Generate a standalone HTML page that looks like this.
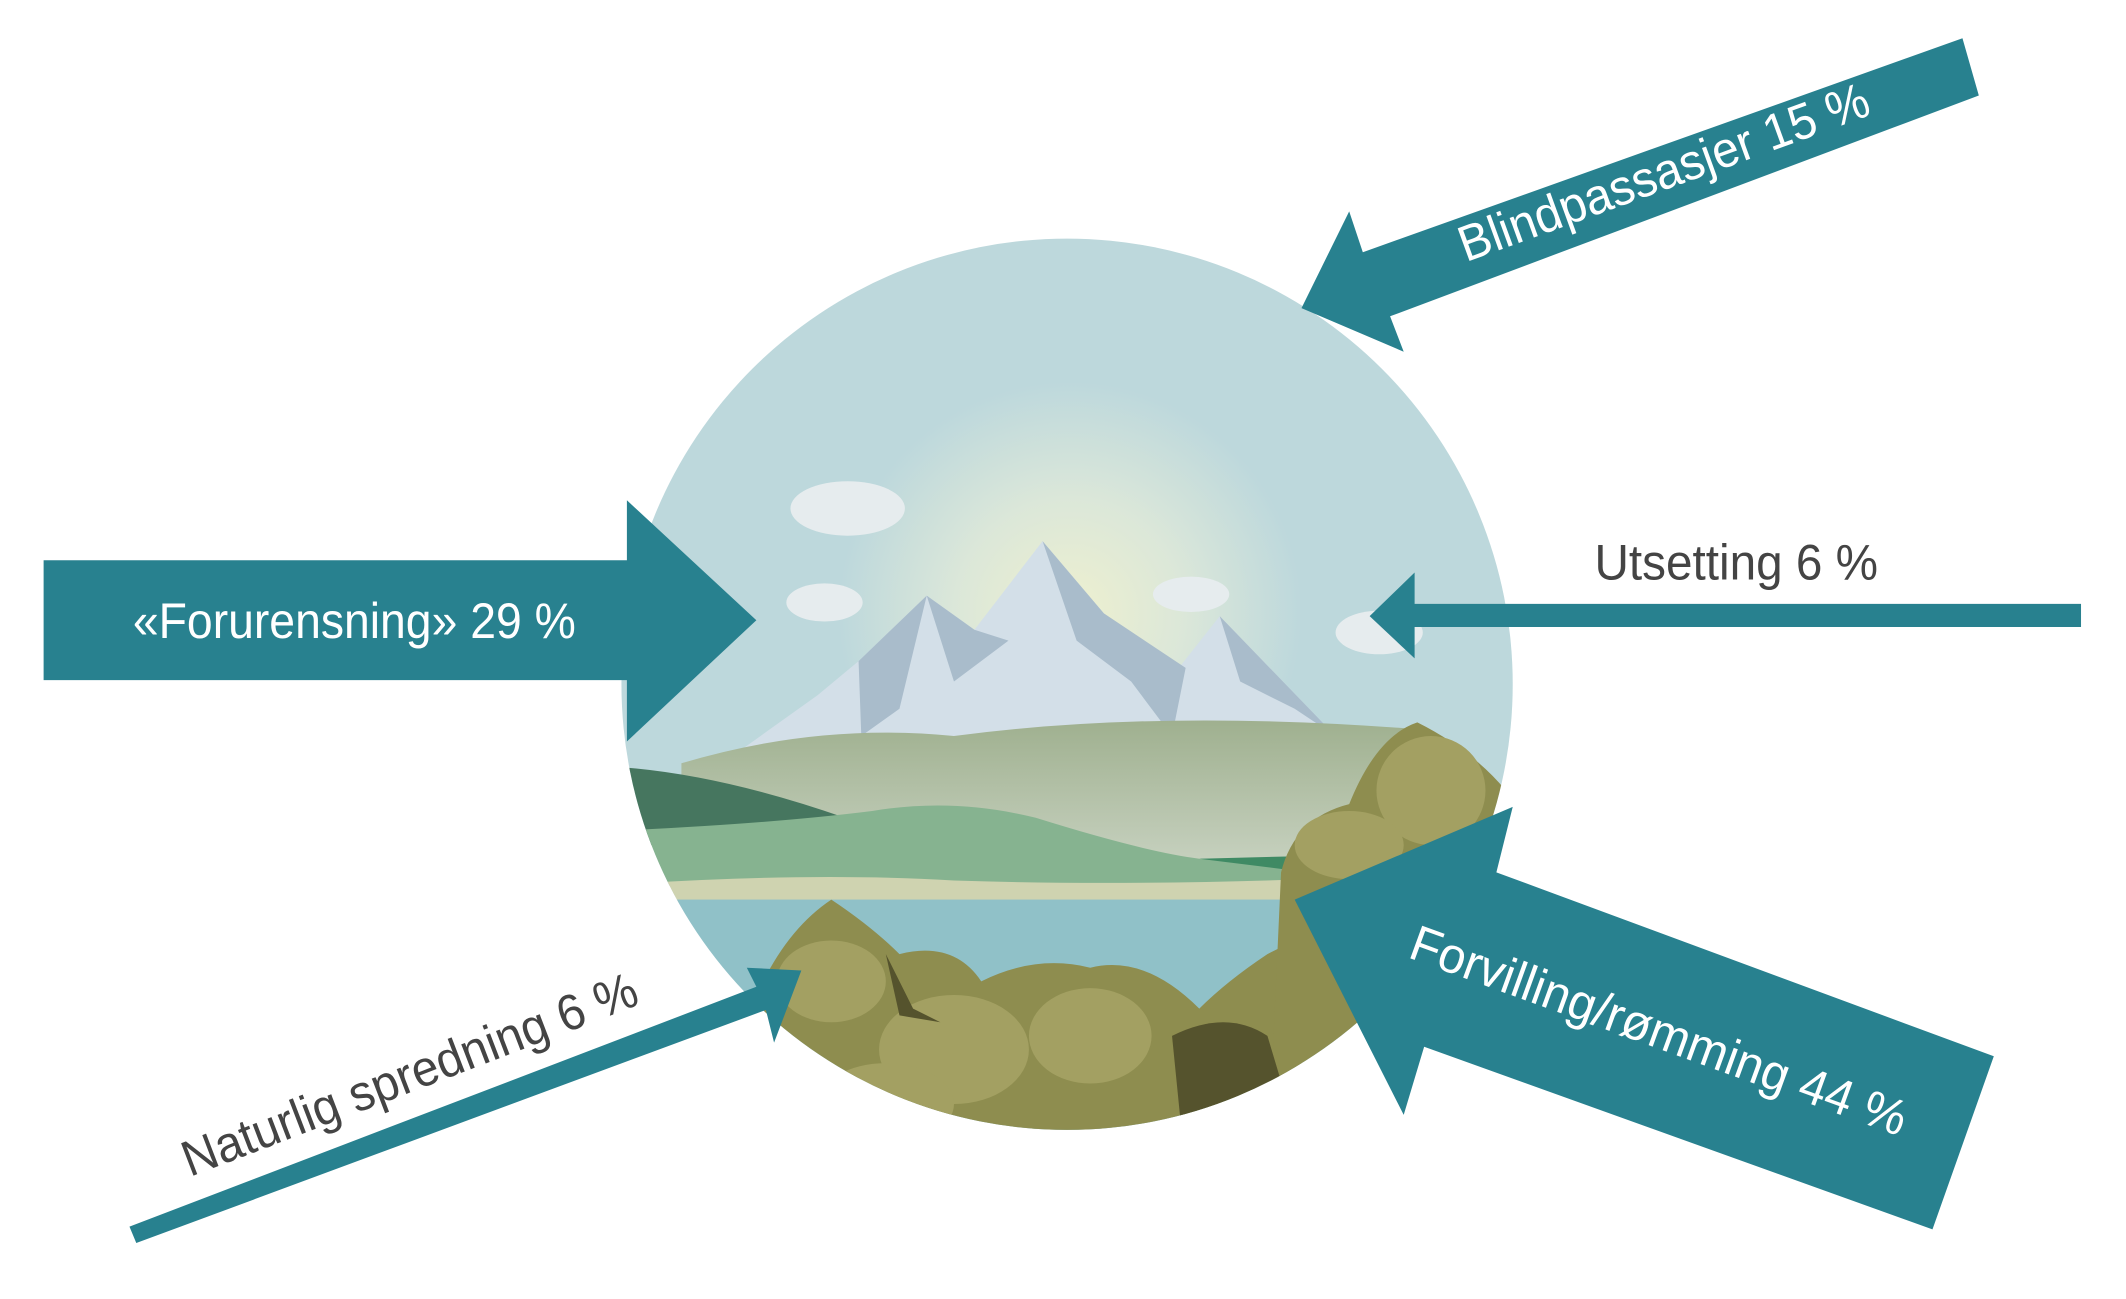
<!DOCTYPE html>
<html><head><meta charset="utf-8"><style>
html,body{margin:0;padding:0;background:#fff}
svg{display:block}
text{font-family:"Liberation Sans",sans-serif}
</style></head><body>
<svg width="2126" height="1299" viewBox="0 0 1560 953" xmlns="http://www.w3.org/2000/svg">
<defs>
<clipPath id="c"><circle cx="783" cy="502" r="327"/></clipPath>
<radialGradient id="sun" cx="785" cy="450" r="170" gradientUnits="userSpaceOnUse">
<stop offset="0" stop-color="#eef0cf"/><stop offset="0.5" stop-color="#dbe7d9"/><stop offset="1" stop-color="#bdd8dc"/></radialGradient>
<linearGradient id="hills" x1="0" y1="0" x2="0" y2="1"><stop offset="0" stop-color="#9fb08f"/><stop offset="1" stop-color="#c9d3c2"/></linearGradient>
</defs>
<g clip-path="url(#c)">
<rect x="440" y="160" width="700" height="700" fill="#bdd8dc"/>
<circle cx="785" cy="450" r="170" fill="url(#sun)"/>
<g fill="#e6ecee"><ellipse cx="622" cy="373" rx="42" ry="20"/><ellipse cx="605" cy="442" rx="28" ry="14"/><ellipse cx="874" cy="436" rx="28" ry="13"/><ellipse cx="1012" cy="464" rx="32" ry="16"/></g>
<polygon points="530,560 600,510 630,485 680,437 715,462 765,397 810,450 865,490 895,452 980,540 980,560" fill="#d3dfe8"/>
<polygon points="630,485 632,540 660,520 680,437" fill="#a9bccb"/>
<polygon points="765,397 790,470 830,500 860,540 870,490 810,450" fill="#a9bccb"/>
<polygon points="680,437 700,500 740,470 715,462" fill="#a9bccb"/>
<polygon points="895,452 910,500 950,520 980,540" fill="#a9bccb"/>
<path d="M500,560 Q600,530 700,540 Q850,520 1040,535 L1040,640 L500,640 Z" fill="url(#hills)"/>
<path d="M440,562 Q520,565 620,600 L620,620 L440,620 Z" fill="#46765f"/>
<path d="M440,610 Q560,605 640,595 Q700,585 760,600 Q840,625 880,630 L960,630 L960,650 L440,650 Z" fill="#86b390"/>
<path d="M880,630 L960,628 L960,640 Z" fill="#3f8a64"/>
<path d="M470,648 Q600,640 700,646 Q820,650 960,645 L960,662 L470,662 Z" fill="#cfd3b0"/>
<rect x="440" y="660" width="700" height="200" fill="#90c1c8"/>
<g fill="#8e8d4f">
<path d="M560,720 Q580,680 610,660 Q640,680 660,700 Q700,690 720,720 Q760,700 800,710 Q840,700 880,740 Q900,720 930,700 L950,690 L960,860 L540,860 Z"/>
<path d="M940,640 Q950,600 990,590 Q1010,540 1040,530 Q1080,550 1105,580 L1120,860 L930,860 Z"/>
</g>
<g fill="#a3a062">
<ellipse cx="610" cy="720" rx="40" ry="30"/><ellipse cx="700" cy="770" rx="55" ry="40"/><ellipse cx="800" cy="760" rx="45" ry="35"/><ellipse cx="1050" cy="580" rx="40" ry="40"/><ellipse cx="990" cy="620" rx="40" ry="25"/><ellipse cx="650" cy="810" rx="50" ry="30"/>
</g>
<g fill="#55532d"><path d="M860,760 Q900,740 930,760 L960,860 L870,860 Z"/><path d="M650,700 L670,740 L690,750 L660,745 Z"/></g>
</g>
<polygon points="32,411 460,411 460,367 555,455 460,544 460,499 32,499" fill="#28818f"/>
<text x="260" y="468" fill="#fff" font-size="37" text-anchor="middle" textLength="325" lengthAdjust="spacingAndGlyphs">«Forurensning» 29 %</text>
<polygon points="1440,28 1452,70 1020,232 1030,258 955,226 990,155 1000,185" fill="#28818f"/>
<text transform="translate(1225,138) rotate(-20)" fill="#fff" font-size="37" text-anchor="middle" textLength="318" lengthAdjust="spacingAndGlyphs">Blindpassasjer 15 %</text>
<polygon points="1527,443 1527,460 1038,460 1038,483 1005,452 1038,420 1038,443" fill="#28818f"/>
<text x="1274" y="425" fill="#444" font-size="37" text-anchor="middle" textLength="208" lengthAdjust="spacingAndGlyphs">Utsetting 6 %</text>
<polygon points="1098,640 1463,775 1418,902 1045,768 1030,818 950,660 1110,592" fill="#28818f"/>
<text transform="translate(1213,768) rotate(20)" fill="#fff" font-size="37" text-anchor="middle" textLength="385" lengthAdjust="spacingAndGlyphs">Forvilling/rømming 44 %</text>
<polygon points="95,900 555,724 548,710 588,712 568,765 562,741 100,912" fill="#28818f"/>
<text transform="translate(305,800) rotate(-21)" fill="#444" font-size="37" text-anchor="middle" textLength="355" lengthAdjust="spacingAndGlyphs">Naturlig spredning 6 %</text>
</svg>
</body></html>
